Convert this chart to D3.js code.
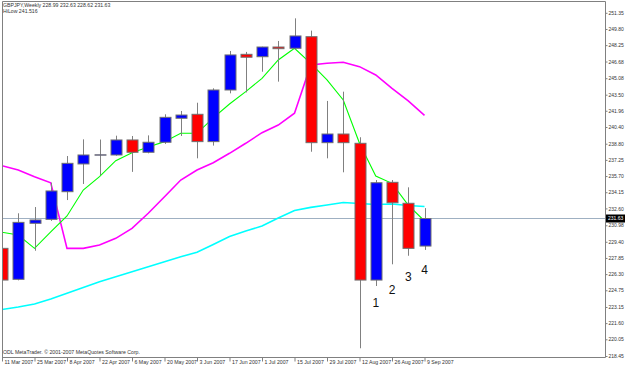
<!DOCTYPE html>
<html>
<head>
<meta charset="utf-8">
<script src="https://cdn.jsdelivr.net/npm/d3@7"></script>
<style>
    html, body { margin: 0; padding: 0; background: #fff; }
    svg { display: block; }
</style>
</head>
<body>
<div id="chart"></div>
<script>
// weekly GBPJPY bars
const weeks = ["2007-03-11", "2007-03-18", "2007-03-25", "2007-04-01", "2007-04-08", "2007-04-15", "2007-04-22",
    "2007-04-29", "2007-05-06", "2007-05-13", "2007-05-20", "2007-05-27", "2007-06-03", "2007-06-10", "2007-06-17",
    "2007-06-24", "2007-07-01", "2007-07-08", "2007-07-15", "2007-07-22", "2007-07-29", "2007-08-05", "2007-08-12",
    "2007-08-19", "2007-08-26", "2007-09-02", "2007-09-09"];
const open = [228.77, 225.80, 231.17, 231.55, 234.20, 236.86, 237.70, 237.72, 239.16, 237.98, 238.94, 241.24, 241.62,
    239.00, 243.95, 247.37, 247.14, 248.07, 247.95, 249.06, 238.90, 239.73, 238.84, 225.73, 235.10, 233.09, 228.99];
const high = [228.90, 232.13, 232.73, 235.06, 237.62, 239.22, 239.20, 239.57, 239.54, 239.60, 241.62, 241.94, 242.73,
    244.11, 247.69, 247.60, 248.10, 248.65, 250.82, 249.64, 242.90, 243.79, 239.42, 235.32, 235.32, 234.62, 232.63];
const low = [222.70, 225.70, 228.54, 231.40, 233.40, 234.94, 235.80, 237.65, 236.10, 237.88, 238.78, 239.54, 237.40,
    238.62, 243.63, 243.72, 245.70, 244.75, 247.79, 238.03, 237.40, 236.06, 219.19, 225.16, 227.24, 228.06, 228.62];
const close = [225.73, 231.26, 231.49, 234.27, 236.92, 237.72, 237.74, 239.16, 237.98, 238.94, 241.33, 241.55, 239.00,
    243.95, 247.31, 247.09, 248.07, 247.91, 249.13, 238.90, 239.73, 238.90, 225.73, 235.06, 233.14, 228.77, 231.63];

// indicator lines
const fastMA = [230.31, 230.05, 228.77, 230.34, 231.87, 234.36, 235.64, 237.17, 237.94, 238.49, 239.00, 239.80, 239.80,
    241.27, 242.61, 243.79, 245.07, 246.83, 247.95, 246.51, 244.91, 242.99, 238.84, 235.70, 235.00, 232.92, 231.39];
const hiLow = [236.69, 236.28, 235.64, 235.06, 228.77, 228.77, 229.09, 229.73, 230.69, 232.13, 233.72, 235.32, 236.28,
    236.98, 237.88, 238.84, 239.86, 240.59, 241.72, 246.35, 246.51, 246.61, 246.19, 245.39, 244.11, 242.90, 241.516];
const slowMA = [222.90, 223.14, 223.43, 223.91, 224.46, 225.01, 225.57, 226.05, 226.53, 227.01, 227.49, 227.97, 228.39,
    229.14, 229.90, 230.43, 230.91, 231.68, 232.40, 232.70, 232.92, 233.16, 233.07, 232.97, 233.02, 232.88, 232.78];

// axes
const priceTicks = ["251.35", "249.80", "248.25", "246.68", "245.08", "243.50", "241.96", "240.40", "238.80", "237.25",
    "235.70", "234.15", "232.60", "230.98", "229.40", "227.85", "226.30", "224.75", "223.15", "221.60", "220.05", "218.45"];
const dateTicks = ["2007-03-11", "2007-03-25", "2007-04-08", "2007-04-22", "2007-05-06", "2007-05-20", "2007-06-03",
    "2007-06-17", "2007-07-01", "2007-07-15", "2007-07-29", "2007-08-12", "2007-08-26", "2007-09-09"];

const lastPrice = 231.63;
const waveLabels = ["1", "2", "3", "4"];
const waveWeeks = ["2007-08-19", "2007-08-26", "2007-09-02", "2007-09-09"];
const wavePrice = [223.56, 224.77, 226.05, 226.76];

const width = 625, height = 367;
const plotLeft = 2, plotTop = 1, plotRight = 605, plotBottom = 357;
const parse = d3.utcParse("%Y-%m-%d");

const x = d3.scaleUtc()
    .domain([parse(weeks[0]), parse(weeks[weeks.length - 1])])
    .range([2, 424.5]);
const y = d3.scaleLinear()
    .domain([218.45, 251.35])
    .range([356, 12.8]);

const svg = d3.select("#chart").append("svg")
    .attr("width", width)
    .attr("height", height)
    .attr("font-family", "'Liberation Sans', Arial, sans-serif");

svg.append("clipPath").attr("id", "plot")
    .append("rect")
    .attr("x", plotLeft).attr("y", plotTop)
    .attr("width", plotRight - plotLeft).attr("height", plotBottom - plotTop);

const plot = svg.append("g").attr("clip-path", "url(#plot)");

// bid line
plot.append("line")
    .attr("x1", plotLeft).attr("x2", plotRight)
    .attr("y1", y(lastPrice)).attr("y2", y(lastPrice))
    .attr("stroke", "#9fb0c2")
    .attr("stroke-width", 1);

const line = d3.line()
    .x((d, i) => x(parse(weeks[i])))
    .y(d => y(d));

plot.append("path").datum(slowMA)
    .attr("fill", "none").attr("stroke", "#00ffff").attr("stroke-width", 1.6)
    .attr("d", line);
plot.append("path").datum(hiLow)
    .attr("fill", "none").attr("stroke", "#ff00ff").attr("stroke-width", 1.6)
    .attr("d", line);
plot.append("path").datum(fastMA)
    .attr("fill", "none").attr("stroke", "#00ff00").attr("stroke-width", 1.1)
    .attr("d", line);

// candles
const bars = weeks.map((w, i) => ({ date: parse(w), o: open[i], h: high[i], l: low[i], c: close[i] }));
const bodyW = 11;

const candle = plot.append("g")
    .selectAll("g")
    .data(bars)
    .join("g")
    .attr("transform", d => `translate(${Math.round(x(d.date)) + 0.5},0)`);

candle.append("line")
    .attr("y1", d => y(d.h))
    .attr("y2", d => y(d.l))
    .attr("stroke", "#808080");

candle.append("rect")
    .attr("x", -bodyW / 2)
    .attr("width", bodyW)
    .attr("y", d => y(Math.max(d.o, d.c)))
    .attr("height", d => Math.max(0.3, Math.abs(y(d.o) - y(d.c))))
    .attr("fill", d => d.c >= d.o ? "#0000ff" : "#ff0000")
    .attr("stroke", "#707070")
    .attr("stroke-width", 1);

// wave numbers
plot.append("g")
    .selectAll("text")
    .data(waveLabels)
    .join("text")
    .attr("x", (d, i) => x(parse(waveWeeks[i])))
    .attr("y", (d, i) => y(wavePrice[i]))
    .attr("dy", "0.36em")
    .attr("text-anchor", "middle")
    .attr("font-size", 12)
    .attr("fill", "#111")
    .text(d => d);

// frame
svg.append("path")
    .attr("d", `M${plotLeft + 0.5},${plotBottom}V${plotTop + 0.5}H${plotRight + 0.5}V${plotBottom + 0.5}H${plotLeft}`)
    .attr("fill", "none")
    .attr("stroke", "#808080");

// price axis
const yAxis = svg.append("g")
    .attr("transform", `translate(${plotRight + 0.5},0)`)
    .call(d3.axisRight(y)
        .tickValues(priceTicks.map(Number))
        .tickFormat((d, i) => priceTicks[i])
        .tickSize(2)
        .tickPadding(1));
yAxis.select(".domain").remove();
yAxis.selectAll(".tick line").attr("stroke", "#808080");
yAxis.selectAll(".tick text")
    .attr("font-size", 5)
    .attr("font-family", "'Liberation Sans', Arial, sans-serif")
    .attr("fill", "#333");

// date axis
const xAxis = svg.append("g")
    .attr("transform", `translate(0,${plotBottom + 0.5})`)
    .call(d3.axisBottom(x)
        .tickValues(dateTicks.map(parse))
        .tickFormat(d3.utcFormat("%-d %b %Y"))
        .tickSize(4));
xAxis.select(".domain").remove();
xAxis.selectAll(".tick line").attr("stroke", "#808080");
xAxis.selectAll(".tick text")
    .attr("text-anchor", "start")
    .attr("x", 2)
    .attr("y", 2.5)
    .attr("font-size", 5.2)
    .attr("font-family", "'Liberation Sans', Arial, sans-serif")
    .attr("fill", "#333");

// last price marker
svg.append("rect")
    .attr("x", plotRight + 1).attr("y", y(lastPrice) - 4)
    .attr("width", 19).attr("height", 8)
    .attr("fill", "#000");
svg.append("text")
    .attr("x", plotRight + 3).attr("y", y(lastPrice))
    .attr("dy", "0.35em")
    .attr("font-size", 5)
    .attr("fill", "#fff")
    .text(lastPrice.toFixed(2));

// header and footer
const last = weeks.length - 1;
const info = svg.append("g").attr("font-size", 5.2).attr("fill", "#333");
info.append("text").attr("x", 3).attr("y", 6.5)
    .text(`GBPJPY,Weekly  ${open[last].toFixed(2)} ${high[last].toFixed(2)} ${low[last].toFixed(2)} ${close[last].toFixed(2)}`);
info.append("text").attr("x", 3).attr("y", 12.5)
    .text(`HiLow ${hiLow[last].toFixed(3)}`);
info.append("text").attr("x", 3).attr("y", 354)
    .text("ODL MetaTrader. \u00a9 2001-2007 MetaQuotes Software Corp.");
</script>
</body>
</html>
